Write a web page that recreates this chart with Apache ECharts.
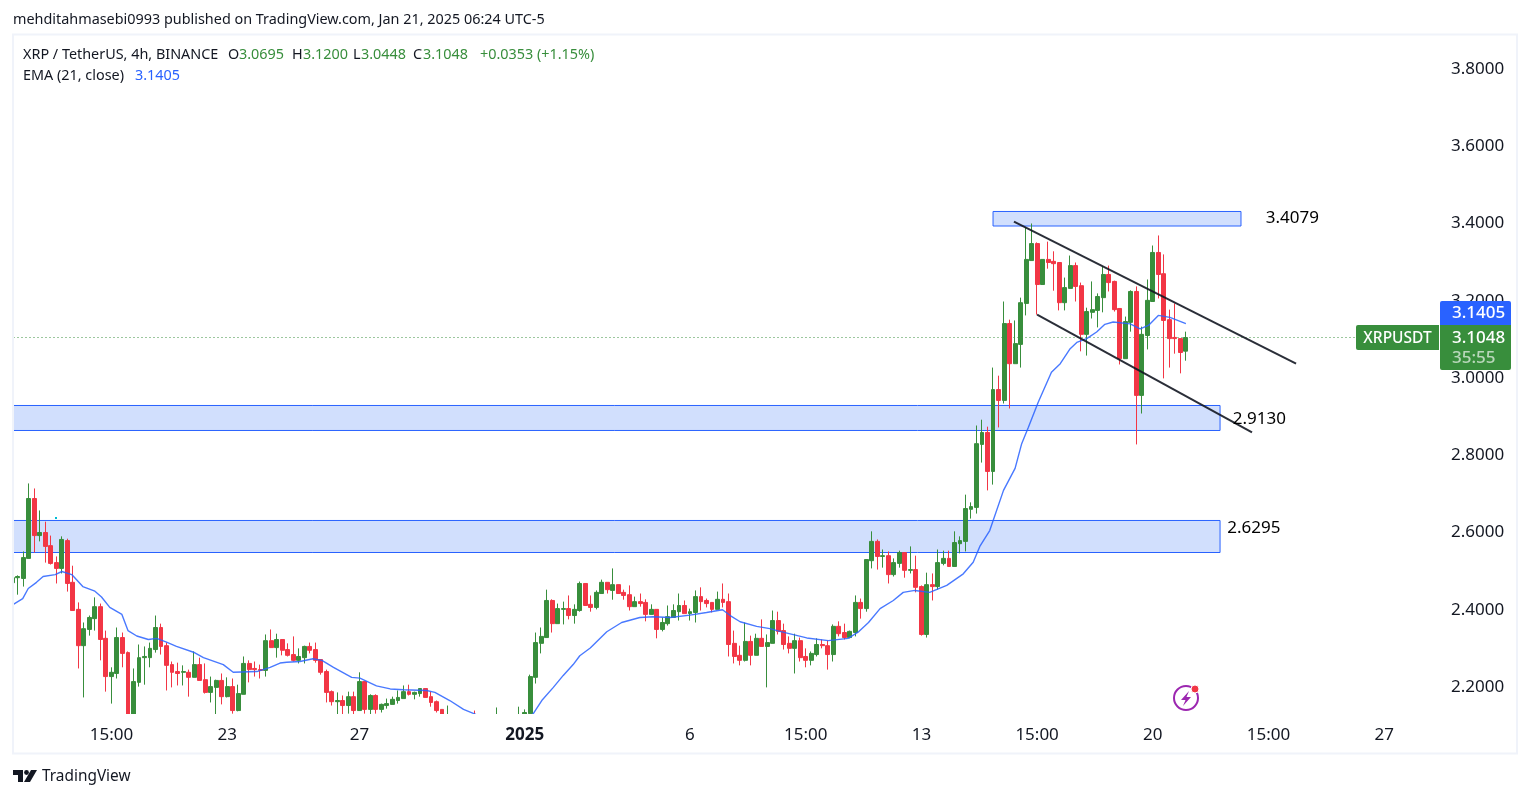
<!DOCTYPE html>
<html><head><meta charset="utf-8">
<style>html,body{margin:0;padding:0;background:#fff}#c{width:1529px;height:798px}</style>
<script src="https://cdn.jsdelivr.net/npm/echarts@6/dist/echarts.min.js"></script>
</head><body><div id="c"></div>
<script>
const opens = [2.470,2.483,2.481,2.533,2.688,2.592,2.600,2.566,2.522,2.507,2.579,2.471,2.401,2.307,2.349,2.377,2.408,2.326,2.227,2.235,2.328,2.289,2.124,2.212,2.276,2.276,2.297,2.354,2.307,2.258,2.240,2.238,2.238,2.225,2.258,2.219,2.186,2.199,2.217,2.175,2.201,2.139,2.181,2.261,2.248,2.245,2.243,2.320,2.302,2.323,2.297,2.284,2.269,2.276,2.305,2.297,2.271,2.240,2.188,2.162,2.165,2.152,2.175,2.139,2.214,2.142,2.178,2.142,2.152,2.155,2.165,2.170,2.188,2.181,2.183,2.196,2.175,2.162,2.142,2.108,2.118,2.100,2.080,2.095,2.082,2.068,2.080,2.070,2.085,2.100,2.090,2.105,2.100,2.124,2.131,2.225,2.313,2.328,2.424,2.364,2.401,2.403,2.385,2.398,2.468,2.414,2.406,2.442,2.471,2.450,2.465,2.445,2.439,2.408,2.421,2.419,2.388,2.401,2.349,2.364,2.380,2.395,2.411,2.390,2.393,2.434,2.424,2.419,2.401,2.427,2.421,2.313,2.282,2.269,2.318,2.282,2.326,2.305,2.313,2.372,2.346,2.313,2.300,2.320,2.279,2.269,2.284,2.310,2.307,2.284,2.357,2.341,2.328,2.341,2.419,2.403,2.527,2.577,2.538,2.540,2.491,2.520,2.548,2.502,2.504,2.460,2.336,2.465,2.460,2.520,2.533,2.512,2.571,2.577,2.660,2.665,2.828,2.859,2.758,2.970,2.942,3.141,3.037,3.087,3.193,3.304,3.348,3.242,3.307,3.302,3.299,3.195,3.232,3.291,3.239,3.113,3.170,3.175,3.208,3.268,3.250,3.180,3.050,3.144,3.224,2.955,3.110,3.198,3.325,3.270,3.151,3.105,3.102,3.0695];
const closes = [2.483,2.486,2.535,2.688,2.592,2.600,2.564,2.520,2.507,2.582,2.468,2.398,2.307,2.351,2.380,2.408,2.323,2.227,2.238,2.328,2.287,2.124,2.214,2.276,2.279,2.300,2.354,2.305,2.256,2.238,2.235,2.240,2.225,2.258,2.217,2.186,2.201,2.217,2.175,2.201,2.139,2.183,2.261,2.245,2.245,2.243,2.320,2.302,2.323,2.295,2.282,2.269,2.279,2.305,2.295,2.269,2.238,2.186,2.162,2.165,2.152,2.175,2.139,2.214,2.142,2.178,2.142,2.155,2.157,2.168,2.173,2.188,2.181,2.186,2.196,2.173,2.160,2.139,2.124,2.124,2.098,2.085,2.095,2.082,2.068,2.080,2.070,2.085,2.100,2.090,2.105,2.115,2.118,2.134,2.227,2.315,2.331,2.424,2.364,2.403,2.403,2.385,2.401,2.468,2.411,2.406,2.445,2.471,2.452,2.465,2.442,2.437,2.408,2.421,2.416,2.388,2.401,2.349,2.367,2.382,2.398,2.411,2.390,2.395,2.434,2.421,2.416,2.401,2.427,2.419,2.310,2.279,2.269,2.318,2.282,2.326,2.305,2.315,2.372,2.344,2.310,2.300,2.320,2.276,2.269,2.287,2.310,2.307,2.284,2.357,2.338,2.328,2.344,2.419,2.403,2.530,2.577,2.538,2.540,2.491,2.522,2.548,2.502,2.504,2.458,2.336,2.465,2.460,2.522,2.533,2.512,2.574,2.579,2.662,2.667,2.830,2.859,2.758,2.970,2.942,3.141,3.037,3.089,3.195,3.307,3.348,3.242,3.307,3.299,3.296,3.195,3.234,3.291,3.237,3.113,3.172,3.177,3.211,3.268,3.247,3.177,3.050,3.146,3.224,2.955,3.113,3.201,3.325,3.268,3.149,3.102,3.102,3.066,3.1048];
const lows = [2.465,2.439,2.460,2.533,2.548,2.577,2.522,2.517,2.468,2.494,2.447,2.398,2.248,2.173,2.333,2.346,2.269,2.188,2.157,2.222,2.251,2.118,2.113,2.201,2.206,2.251,2.289,2.284,2.191,2.199,2.204,2.204,2.175,2.225,2.217,2.183,2.160,2.129,2.155,2.173,2.131,2.137,2.181,2.212,2.227,2.222,2.227,2.302,2.276,2.282,2.279,2.266,2.261,2.261,2.287,2.263,2.232,2.160,2.152,2.129,2.129,2.131,2.129,2.139,2.131,2.129,2.131,2.134,2.144,2.155,2.157,2.170,2.178,2.168,2.175,2.173,2.149,2.134,2.118,2.100,2.090,2.075,2.072,2.070,2.055,2.060,2.062,2.065,2.078,2.082,2.085,2.098,2.095,2.120,2.131,2.209,2.287,2.328,2.341,2.364,2.362,2.375,2.364,2.395,2.411,2.395,2.401,2.442,2.442,2.426,2.442,2.426,2.398,2.408,2.408,2.370,2.388,2.326,2.344,2.359,2.380,2.372,2.390,2.372,2.367,2.398,2.406,2.393,2.401,2.406,2.279,2.261,2.256,2.266,2.256,2.282,2.305,2.199,2.313,2.336,2.297,2.287,2.235,2.266,2.251,2.256,2.279,2.300,2.245,2.266,2.331,2.323,2.326,2.331,2.377,2.395,2.507,2.504,2.509,2.468,2.486,2.509,2.483,2.494,2.445,2.333,2.328,2.424,2.452,2.515,2.512,2.512,2.546,2.551,2.636,2.649,2.781,2.709,2.724,2.872,2.934,2.921,3.037,3.027,3.162,3.304,3.164,3.242,3.283,3.226,3.175,3.175,3.232,3.198,3.069,3.058,3.154,3.131,3.170,3.224,3.172,3.035,3.050,3.120,2.828,2.908,3.074,3.198,3.206,2.999,3.027,3.063,3.012,3.0448];
const highs = [2.489,2.489,2.551,2.727,2.714,2.657,2.628,2.592,2.538,2.590,2.584,2.514,2.419,2.367,2.385,2.432,2.416,2.346,2.251,2.354,2.341,2.292,2.248,2.310,2.305,2.315,2.385,2.364,2.315,2.266,2.263,2.256,2.245,2.292,2.276,2.261,2.227,2.219,2.235,2.225,2.222,2.206,2.279,2.269,2.266,2.258,2.336,2.349,2.338,2.323,2.313,2.331,2.300,2.307,2.315,2.315,2.271,2.245,2.191,2.186,2.178,2.188,2.188,2.238,2.214,2.181,2.181,2.157,2.170,2.175,2.191,2.204,2.206,2.188,2.196,2.196,2.188,2.165,2.142,2.152,2.122,2.110,2.105,2.112,2.139,2.095,2.090,2.098,2.147,2.112,2.118,2.125,2.149,2.142,2.232,2.341,2.354,2.452,2.427,2.416,2.421,2.437,2.414,2.473,2.468,2.437,2.450,2.478,2.471,2.507,2.465,2.452,2.463,2.434,2.442,2.427,2.414,2.401,2.380,2.411,2.414,2.442,2.424,2.403,2.450,2.458,2.429,2.419,2.447,2.468,2.442,2.346,2.307,2.367,2.333,2.338,2.375,2.336,2.398,2.395,2.364,2.331,2.338,2.328,2.300,2.292,2.326,2.323,2.320,2.362,2.370,2.364,2.346,2.437,2.429,2.530,2.603,2.582,2.556,2.551,2.533,2.553,2.548,2.564,2.540,2.463,2.496,2.494,2.556,2.553,2.553,2.603,2.590,2.698,2.678,2.877,2.892,2.874,3.027,3.006,3.198,3.151,3.149,3.208,3.390,3.400,3.351,3.307,3.353,3.328,3.299,3.260,3.317,3.299,3.247,3.182,3.250,3.219,3.289,3.291,3.252,3.180,3.159,3.227,3.237,3.133,3.255,3.343,3.369,3.320,3.177,3.193,3.102,3.12];

const emaAt = [0.2,1.9,2.9,4.4,5.6,7.8,9,10.8,12.8,15,16.2,17.7,19.9,21,22.6,24.7,26.2,28,29.8,32.9,34.7,38.3,40.1,44.4,46.8,48.6,49.8,52.2,54.6,56.2,58.3,61.6,63.1,66.1,68.6,71,75.2,76.7,79.4,81.9,84,86.7,89.4,92.1,94.5,96.1,98.2,100,101.8,103,104.9,107.9,110.6,113.9,116.3,119.4,123,126,128.9,130.3,132.1,135.1,137.5,139.3,144.2,148.1,151.7,153.5,155.4,157.5,159.9,161.7,163.8,166.5,169.6,172.6,174.4,175.6,177.4,179.9,182,183.2,184.4,186.2,188.6,190.2,192,193.2,195,196.8,198.3,199.8,202.9,204.7,206.2,208,210.1,213];
const emaVal = [2.414,2.429,2.455,2.471,2.486,2.491,2.499,2.491,2.460,2.448,2.433,2.406,2.388,2.346,2.332,2.323,2.326,2.316,2.305,2.290,2.276,2.258,2.238,2.240,2.251,2.262,2.264,2.266,2.273,2.269,2.251,2.225,2.223,2.203,2.195,2.193,2.191,2.186,2.165,2.142,2.130,2.108,2.090,2.098,2.130,2.165,2.199,2.230,2.258,2.281,2.301,2.343,2.367,2.380,2.382,2.380,2.386,2.393,2.400,2.385,2.369,2.357,2.351,2.344,2.327,2.320,2.326,2.342,2.367,2.403,2.424,2.445,2.450,2.445,2.463,2.493,2.523,2.564,2.605,2.709,2.766,2.830,2.872,2.937,3.015,3.037,3.076,3.092,3.102,3.119,3.139,3.145,3.140,3.127,3.136,3.162,3.157,3.1405];

const yTicks = [2.2,2.4,2.6,2.8,3.0,3.2,3.4,3.6,3.8];
const tickCats = ['Dec 19 15:00','Dec 23 03:00','Dec 27 03:00','Jan 1 03:00','Jan 6 03:00','Jan 9 15:00','Jan 13 03:00','Jan 16 15:00','Jan 20 03:00','Jan 23 15:00','Jan 27 03:00'];
const tickText = ['15:00','23','27','2025','6','15:00','13','15:00','20','15:00','27'];

const zoneFrom = [-0.5,-0.5,178.0];
const zoneTo   = [219.2,219.2,223.0];
const zoneTop  = [2.9288,2.6311,3.4311];
const zoneBot  = [2.8641,2.5482,3.3935];
const noteAt   = [221.5,220.5,227.5];
const notePrice= [2.8943,2.6117,3.4142];
const noteText = ['2.9130','2.6295','3.4079'];
const upperChannel = [[181.8,3.405],[233,3.037]];
const lowerChannel = [[186,3.164],[225,2.859]];

const lastClose = 3.1048;
const FONT = '"Noto Sans", sans-serif';
const INK = '#131722', GREEN = '#388e3c', RED = '#f23645', BLUE = '#2962ff';

const MON = ['Jan','Feb','Mar','Apr','May','Jun','Jul','Aug','Sep','Oct','Nov','Dec'];
const BARS = 258;
const categories = [];
for (let i = 0; i < BARS; i++) {
  const d = new Date(Date.UTC(2024, 11, 16, 15) + i * 4 * 3600 * 1000);
  categories.push(MON[d.getUTCMonth()] + ' ' + d.getUTCDate() + ' ' + String(d.getUTCHours()).padStart(2,'0') + ':00');
}
const ohlc = opens.map((o, i) => [o, closes[i], lows[i], highs[i]]);
const ema = emaAt.map((x, i) => [x, emaVal[i]]);

const head = {fontFamily:FONT, fontSize:14.4, verticalAlign:'middle'};
const hdr = (x, y, text, fill) => ({type:'text', z:30, x, y, style:{...head, text, fill}});

const chart = echarts.init(document.getElementById('c'), null, {renderer:'canvas'});
chart.setOption({
  animation:false,
  backgroundColor:'#fff',
  grid:{left:9.5, top:35.5, width:BARS*5.51, height:679, containLabel:false},
  xAxis:[{
    type:'category', data:categories, z:20, boundaryGap:true,
    axisLine:{show:false}, axisTick:{show:false}, splitLine:{show:false},
    axisLabel:{
      show:true, margin:12, color:INK, fontSize:17, fontFamily:FONT, hideOverlap:false,
      interval:(i,v)=>tickCats.includes(v),
      formatter:(v)=>{const t=tickText[tickCats.indexOf(v)]; return t==='2025'?'{b|2025}':t;},
      rich:{b:{fontWeight:'bold',fontSize:17,fontFamily:FONT,color:INK}}
    }
  },{
    type:'value', show:false, min:-0.5, max:BARS-0.5, splitLine:{show:false}
  }],
  yAxis:[{
    type:'value', position:'right', min:2.1288, max:3.8867, scale:true,
    axisLine:{show:false}, axisTick:{show:false}, splitLine:{show:false},
    axisLabel:{show:true, customValues:yTicks, margin:20, color:INK, fontSize:17, fontFamily:FONT, align:'left', formatter:v=>v.toFixed(4)}
  }],
  series:[
    {name:'Zones', type:'line', xAxisIndex:1, data:[], z:1, silent:true,
      markArea:{silent:true, itemStyle:{color:'#d1dffd', borderColor:BLUE, borderWidth:1},
        data:zoneFrom.map((f,i)=>[{xAxis:f,yAxis:zoneTop[i]},{xAxis:zoneTo[i],yAxis:zoneBot[i]}])}},
    {name:'Last close', type:'line', xAxisIndex:1, data:[[-0.5,lastClose],[BARS-0.5,lastClose]], z:1, symbol:'none',
      lineStyle:{color:GREEN,type:[1,3],width:1}},
    {name:'XRPUSDT', type:'candlestick', data:ohlc, barWidth:4.4, z:2,
      itemStyle:{color:GREEN,color0:RED,borderColor:GREEN,borderColor0:RED,borderWidth:1}},
    {name:'EMA', type:'line', xAxisIndex:1, data:ema, z:3, symbol:'none', smooth:false,
      lineStyle:{color:BLUE,width:1.4,opacity:.85}},
    {name:'Upper channel', type:'line', xAxisIndex:1, data:upperChannel, z:4, symbol:'none', lineStyle:{color:INK,width:2,opacity:.9}},
    {name:'Lower channel', type:'line', xAxisIndex:1, data:lowerChannel, z:4, symbol:'none', lineStyle:{color:INK,width:2,opacity:.9}},
    {name:'Notes', type:'scatter', xAxisIndex:1, symbolSize:0, z:5, itemStyle:{opacity:1},
      data:noteAt.map((x,i)=>[x,notePrice[i],noteText[i]]),
      label:{show:true,position:'right',distance:0,opacity:1,formatter:p=>p.value[2],color:'#000',fontSize:17,fontFamily:FONT}}
  ],
  graphic:{elements:[
    {type:'rect',z:15,silent:true,shape:{x:14,y:714,width:1502,height:40},style:{fill:'#fff'}},
    {type:'rect',z:15,silent:true,shape:{x:0,y:30,width:14,height:730},style:{fill:'#fff'}},
    {type:'rect',z:16,silent:true,shape:{x:13,y:34.5,width:1504,height:719},style:{fill:'none',stroke:'#f0f3fa',lineWidth:2}},
    {type:'rect',z:17,silent:true,shape:{x:55,y:517,width:2,height:2},style:{fill:'#00bcd4'}},
    hdr(13,20,'mehditahmasebi0993 published on TradingView.com, Jan 21, 2025 06:24 UTC-5',INK),
    hdr(23,55,'XRP / TetherUS, 4h, BINANCE',INK),
    hdr(228,55,'O',INK), hdr(239,55,'3.0695',GREEN),
    hdr(292,55,'H',INK), hdr(303,55,'3.1200',GREEN),
    hdr(353,55,'L',INK), hdr(361,55,'3.0448',GREEN),
    hdr(413,55,'C',INK), hdr(423,55,'3.1048',GREEN),
    hdr(480,55,'+0.0353 (+1.15%)',GREEN),
    hdr(23,76,'EMA (21, close)',INK), hdr(135,76,'3.1405',BLUE),
    // price tags
    {type:'rect',z:31,shape:{x:1440,y:301,width:71,height:24,r:[2,2,0,0]},style:{fill:BLUE}},
    {type:'rect',z:31,shape:{x:1440,y:325,width:71,height:45,r:[0,0,2,2]},style:{fill:GREEN}},
    {type:'rect',z:31,shape:{x:1356,y:325,width:83,height:25,r:[2,0,0,2]},style:{fill:GREEN}},
    {type:'text',z:32,x:1452,y:313.5,style:{text:'3.1405',fill:'#fff',fontFamily:FONT,fontSize:17,fontWeight:500,verticalAlign:'middle'}},
    {type:'text',z:32,x:1452,y:338.5,style:{text:'3.1048',fill:'#fff',fontFamily:FONT,fontSize:17,fontWeight:500,verticalAlign:'middle'}},
    {type:'text',z:32,x:1452,y:358.5,style:{text:'35:55',fill:'rgba(255,255,255,.65)',fontFamily:FONT,fontSize:17,fontWeight:500,verticalAlign:'middle'}},
    {type:'text',z:32,x:1397.5,y:338.5,style:{text:'XRPUSDT',fill:'#fff',fontFamily:FONT,fontSize:15.5,fontWeight:500,align:'center',verticalAlign:'middle'}},
    // bolt badge
    {type:'circle',z:17,shape:{cx:1186,cy:698,r:12},style:{fill:'none',stroke:'#9c27b0',lineWidth:2}},
    {type:'polygon',z:18,shape:{points:[[1189,691],[1181,700],[1185.5,700],[1183,706],[1191,697],[1186.5,697]]},style:{fill:'#9c27b0'}},
    {type:'circle',z:18,shape:{cx:1195,cy:689,r:4},style:{fill:RED,stroke:'#fff',lineWidth:1}},
    // logo
    {type:'polygon',z:30,shape:{points:[[13,770],[23,770],[23,782],[18,782],[18,775],[13,775]]},style:{fill:INK}},
    {type:'polygon',z:30,shape:{points:[[31,770],[37,770],[30,782],[24,782]]},style:{fill:INK}},
    {type:'circle',z:30,shape:{cx:26.5,cy:772.5,r:2.4},style:{fill:INK}},
    {type:'text',z:30,x:42,y:777,style:{text:'TradingView',fill:INK,fontFamily:FONT,fontSize:15.4,verticalAlign:'middle'}}
  ]}
});
</script></body></html>
